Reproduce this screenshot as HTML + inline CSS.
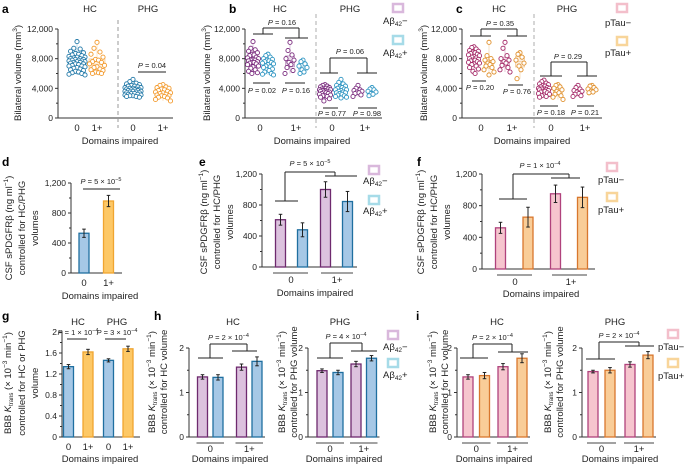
<!DOCTYPE html>
<html><head><meta charset="utf-8">
<style>
html,body{margin:0;padding:0;background:#fff;}
svg{display:block;font-family:"Liberation Sans",sans-serif;}
.tk{font-size:8.5px;fill:#222;}
.tt{font-size:9.5px;fill:#222;}
.pl{font-size:12px;font-weight:bold;fill:#000;}
.pv{font-size:7.5px;fill:#222;}
</style></head>
<body>
<svg id="fig" width="685" height="464" viewBox="0 0 685 464" xmlns="http://www.w3.org/2000/svg">
<text class="pl" x="2" y="13">a</text>
<text class="pl" x="229" y="13">b</text>
<text class="pl" x="456" y="13">c</text>
<text class="pl" x="2" y="166">d</text>
<text class="pl" x="199" y="166">e</text>
<text class="pl" x="417" y="166">f</text>
<text class="pl" x="2" y="320">g</text>
<text class="pl" x="154" y="320">h</text>
<text class="pl" x="416" y="320">i</text>

<text class="tt" transform="translate(21,73) rotate(-90)" text-anchor="middle">Bilateral volume (mm<tspan font-size="6.5" dy="-4">3</tspan><tspan dy="4">)</tspan></text>
<text class="tt" transform="translate(210,73) rotate(-90)" text-anchor="middle">Bilateral volume (mm<tspan font-size="6.5" dy="-4">3</tspan><tspan dy="4">)</tspan></text>
<text class="tt" transform="translate(427,73) rotate(-90)" text-anchor="middle">Bilateral volume (mm<tspan font-size="6.5" dy="-4">3</tspan><tspan dy="4">)</tspan></text>

<g>
<text class="tt" transform="translate(12,228) rotate(-90)" text-anchor="middle">CSF sPDGFRβ (ng ml<tspan font-size="6.5" dy="-4">−1</tspan><tspan dy="4">)</tspan></text>
<text class="tt" transform="translate(25,228) rotate(-90)" text-anchor="middle">controlled for HC/PHG</text>
<text class="tt" transform="translate(38,228) rotate(-90)" text-anchor="middle">volumes</text></g>
<g>
<text class="tt" transform="translate(207,222) rotate(-90)" text-anchor="middle">CSF sPDGFRβ (ng ml<tspan font-size="6.5" dy="-4">−1</tspan><tspan dy="4">)</tspan></text>
<text class="tt" transform="translate(220,222) rotate(-90)" text-anchor="middle">controlled for HC/PHG</text>
<text class="tt" transform="translate(233,222) rotate(-90)" text-anchor="middle">volumes</text></g>
<g>
<text class="tt" transform="translate(424,222) rotate(-90)" text-anchor="middle">CSF sPDGFRβ (ng ml<tspan font-size="6.5" dy="-4">−1</tspan><tspan dy="4">)</tspan></text>
<text class="tt" transform="translate(437,222) rotate(-90)" text-anchor="middle">controlled for HC/PHG</text>
<text class="tt" transform="translate(450,222) rotate(-90)" text-anchor="middle">volumes</text></g>
<g>
<text class="tt" transform="translate(11,383) rotate(-90)" text-anchor="middle">BBB <tspan font-style="italic">K</tspan><tspan font-size="6" dy="2">trans</tspan><tspan dy="-2"> (× 10</tspan><tspan font-size="6.5" dy="-4">−3</tspan><tspan dy="4"> min</tspan><tspan font-size="6.5" dy="-4">−1</tspan><tspan dy="4">)</tspan></text>
<text class="tt" transform="translate(25,383) rotate(-90)" text-anchor="middle">controlled for HC or PHG</text>
<text class="tt" transform="translate(38,383) rotate(-90)" text-anchor="middle">volume</text></g>
<g>
<text class="tt" transform="translate(155,382) rotate(-90)" text-anchor="middle">BBB <tspan font-style="italic">K</tspan><tspan font-size="6" dy="2">trans</tspan><tspan dy="-2"> (× 10</tspan><tspan font-size="6.5" dy="-4">−3</tspan><tspan dy="4"> min</tspan><tspan font-size="6.5" dy="-4">−1</tspan><tspan dy="4">)</tspan></text>
<text class="tt" transform="translate(167,382) rotate(-90)" text-anchor="middle">controlled for HC volume</text></g>
<g>
<text class="tt" transform="translate(285,382) rotate(-90)" text-anchor="middle">BBB <tspan font-style="italic">K</tspan><tspan font-size="6" dy="2">trans</tspan><tspan dy="-2"> (× 10</tspan><tspan font-size="6.5" dy="-4">−3</tspan><tspan dy="4"> min</tspan><tspan font-size="6.5" dy="-4">−1</tspan><tspan dy="4">)</tspan></text>
<text class="tt" transform="translate(297,382) rotate(-90)" text-anchor="middle">controlled for PHG volume</text></g>
<g>
<text class="tt" transform="translate(436,382) rotate(-90)" text-anchor="middle">BBB <tspan font-style="italic">K</tspan><tspan font-size="6" dy="2">trans</tspan><tspan dy="-2"> (× 10</tspan><tspan font-size="6.5" dy="-4">−3</tspan><tspan dy="4"> min</tspan><tspan font-size="6.5" dy="-4">−1</tspan><tspan dy="4">)</tspan></text>
<text class="tt" transform="translate(448,382) rotate(-90)" text-anchor="middle">controlled for HC volume</text></g>
<g>
<text class="tt" transform="translate(551,382) rotate(-90)" text-anchor="middle">BBB <tspan font-style="italic">K</tspan><tspan font-size="6" dy="2">trans</tspan><tspan dy="-2"> (× 10</tspan><tspan font-size="6.5" dy="-4">−3</tspan><tspan dy="4"> min</tspan><tspan font-size="6.5" dy="-4">−1</tspan><tspan dy="4">)</tspan></text>
<text class="tt" transform="translate(563,382) rotate(-90)" text-anchor="middle">controlled for PHG volume</text></g>

<text class="tt" x="90" y="12" text-anchor="middle">HC</text>
<text class="tt" x="148" y="12" text-anchor="middle">PHG</text>
<text class="tt" x="280" y="12" text-anchor="middle">HC</text>
<text class="tt" x="350" y="12" text-anchor="middle">PHG</text>
<text class="tt" x="499" y="12" text-anchor="middle">HC</text>
<text class="tt" x="567" y="12" text-anchor="middle">PHG</text>
<text class="tt" x="78" y="325" text-anchor="middle">HC</text>
<text class="tt" x="117" y="325" text-anchor="middle">PHG</text>
<text class="tt" x="233" y="325" text-anchor="middle">HC</text>
<text class="tt" x="340" y="325" text-anchor="middle">PHG</text>
<text class="tt" x="497" y="325" text-anchor="middle">HC</text>
<text class="tt" x="615" y="325" text-anchor="middle">PHG</text>

<text class="tt" x="120" y="144" text-anchor="middle">Domains impaired</text>
<text class="tt" x="312" y="144" text-anchor="middle">Domains impaired</text>
<text class="tt" x="532" y="144" text-anchor="middle">Domains impaired</text>
<text class="tt" x="100" y="299" text-anchor="middle">Domains impaired</text>
<text class="tt" x="315" y="296" text-anchor="middle">Domains impaired</text>
<text class="tt" x="541" y="297" text-anchor="middle">Domains impaired</text>
<text class="tt" x="100" y="462" text-anchor="middle">Domains impaired</text>
<text class="tt" x="230" y="462" text-anchor="middle">Domains impaired</text>
<text class="tt" x="344" y="462" text-anchor="middle">Domains impaired</text>
<text class="tt" x="494" y="462" text-anchor="middle">Domains impaired</text>
<text class="tt" x="620" y="462" text-anchor="middle">Domains impaired</text>

<g>
<rect x="393" y="4" width="10" height="8" fill="#fff" stroke="#d9b8dc" stroke-width="2.5"/><text class="tt" x="383" y="24">Aβ<tspan font-size="6.5" dy="2">42</tspan><tspan dy="-2">−</tspan></text>
<rect x="393" y="36" width="10" height="8" fill="#fff" stroke="#a6dbe8" stroke-width="2.5"/><text class="tt" x="383" y="56">Aβ<tspan font-size="6.5" dy="2">42</tspan><tspan dy="-2">+</tspan></text></g>
<g>
<rect x="617" y="4" width="10" height="8" fill="#fff" stroke="#f3bfcb" stroke-width="2.5"/><text class="tt" x="605" y="26">pTau−</text>
<rect x="617" y="37" width="10" height="8" fill="#fff" stroke="#f8d59a" stroke-width="2.5"/><text class="tt" x="605" y="56">pTau+</text></g>
<g>
<rect x="369" y="166" width="10" height="8" fill="#fff" stroke="#d9b8dc" stroke-width="2.5"/><text class="tt" x="363" y="184">Aβ<tspan font-size="6.5" dy="2">42</tspan><tspan dy="-2">−</tspan></text>
<rect x="369" y="196" width="10" height="8" fill="#fff" stroke="#a6dbe8" stroke-width="2.5"/><text class="tt" x="363" y="214">Aβ<tspan font-size="6.5" dy="2">42</tspan><tspan dy="-2">+</tspan></text></g>
<g>
<rect x="607" y="163" width="10" height="8" fill="#fff" stroke="#f3bfcb" stroke-width="2.5"/><text class="tt" x="598" y="183">pTau−</text>
<rect x="607" y="193" width="10" height="8" fill="#fff" stroke="#f8d59a" stroke-width="2.5"/><text class="tt" x="598" y="213">pTau+</text></g>
<g>
<rect x="388" y="331" width="10" height="8" fill="#fff" stroke="#d9b8dc" stroke-width="2.5"/><text class="tt" x="383" y="350">Aβ<tspan font-size="6.5" dy="2">42</tspan><tspan dy="-2">−</tspan></text>
<rect x="388" y="359" width="10" height="8" fill="#fff" stroke="#a6dbe8" stroke-width="2.5"/><text class="tt" x="383" y="378">Aβ<tspan font-size="6.5" dy="2">42</tspan><tspan dy="-2">+</tspan></text></g>
<g>
<rect x="668" y="330" width="10" height="8" fill="#fff" stroke="#f3bfcb" stroke-width="2.5"/><text class="tt" x="658" y="350">pTau−</text>
<rect x="668" y="359" width="10" height="8" fill="#fff" stroke="#f8d59a" stroke-width="2.5"/><text class="tt" x="658" y="379">pTau+</text></g>
</svg>

<script>
const aHC0 = [10.3,9.4,9.3,9.0,8.8,8.7,8.6,8.5,8.4,8.3,8.2,8.2,8.1,8.0,8.0,7.9,7.9,7.8,7.8,7.7,7.7,7.6,7.6,7.5,7.5,7.4,7.3,7.3,7.2,7.1,7.0,7.0,6.9,6.8,6.7,6.6,6.5,6.4,6.3,6.2,6.1,6.0,5.9,5.8];
const aHC1 = [10.2,9.4,8.9,8.6,8.2,7.9,7.8,7.6,7.5,7.3,7.1,6.9,6.8,6.6,6.5,6.4,6.2,6.1,6.0,6.0];
const aPHG0 = [5.2,4.9,4.7,4.6,4.5,4.4,4.3,4.3,4.2,4.1,4.1,4.0,4.0,3.9,3.9,3.8,3.8,3.8,3.7,3.7,3.6,3.6,3.6,3.5,3.5,3.4,3.4,3.3,3.3,3.2,3.2,3.1,3.1,3.0,3.0,2.9,2.9,2.8];
const aPHG1 = [4.5,4.4,4.2,4.1,4.0,3.9,3.8,3.7,3.6,3.5,3.4,3.4,3.3,3.2,3.1,3.0,3.0,2.9,2.8,2.7,2.5,2.3];
const bHC0neg = [10.3,9.4,9.2,9.0,8.8,8.6,8.5,8.4,8.2,8.1,8.0,7.9,7.8,7.8,7.7,7.6,7.5,7.5,7.4,7.3,7.2,7.0,6.9,6.7,6.5,6.3,6.1,6.0];
const bHC0pos = [8.6,8.4,8.2,8.0,7.9,7.8,7.7,7.6,7.5,7.4,7.3,7.2,7.0,6.9,6.8,6.6,6.5,6.4,6.2,6.0,5.9,5.8];
const bHC1neg = [10.2,9.1,8.5,8.0,7.8,7.5,7.2,6.8,6.4,6.0];
const bHC1pos = [7.8,7.6,7.3,7.0,6.8,6.5,6.2,6.0];
const bPHG0neg = [4.5,4.4,4.3,4.2,4.1,4.0,4.0,3.9,3.9,3.8,3.8,3.7,3.7,3.6,3.6,3.5,3.5,3.4,3.3,3.3,3.2,3.1,3.0,3.0,2.9,2.8,2.6,2.3];
const bPHG0pos = [5.2,4.8,4.6,4.4,4.3,4.2,4.1,4.0,3.9,3.8,3.8,3.7,3.6,3.5,3.4,3.4,3.3,3.2,3.1,3.0,2.9,2.8,2.7];
const bPHG1neg = [4.4,4.0,3.8,3.7,3.6,3.5,3.4,3.3,3.1,2.9];
const bPHG1pos = [4.1,3.9,3.8,3.6,3.5,3.3,3.2,3.0];
const cHC0neg = [9.6,9.5,9.3,9.1,9.0,8.9,8.8,8.7,8.6,8.5,8.4,8.3,8.2,8.1,8.0,7.9,7.8,7.8,7.7,7.6,7.5,7.4,7.3,7.2,7.0,6.8,6.6,6.3,6.0];
const cHC0pos = [10.2,8.4,8.0,7.8,7.6,7.4,7.2,7.0,6.8,6.5,6.2,5.8];
const cHC1neg = [10.2,9.4,8.4,8.0,7.8,7.6,7.4,7.1,6.8,6.5,6.2];
const cHC1pos = [8.8,8.6,8.2,7.8,7.4,7.0,6.5,5.3];
const cPHG0neg = [5.1,4.9,4.7,4.6,4.5,4.4,4.3,4.2,4.1,4.0,4.0,3.9,3.9,3.8,3.8,3.7,3.6,3.6,3.5,3.4,3.3,3.2,3.1,3.0,2.9,2.8];
const cPHG0pos = [4.5,4.4,4.2,4.0,3.8,3.6,3.4,3.2,3.0,2.8,2.5];
const cPHG1neg = [4.4,4.1,3.9,3.7,3.6,3.5,3.3,3.2,3.0,2.9];
const cPHG1pos = [4.4,4.3,4.1,3.9,3.8,3.6,3.5,3.4];
const dVals = [530, 960];     const dErr = [55, 75];
const eVals = [610, 480, 1000, 845]; const eErr = [70, 90, 100, 130];
const fVals = [520, 655, 950, 905];  const fErr = [70, 125, 110, 130];
const gVals = [1.34, 1.62, 1.46, 1.68]; const gErr = [0.04, 0.05, 0.03, 0.05];
const hHCVals = [1.35, 1.34, 1.57, 1.70]; const hHCErr = [0.05, 0.06, 0.07, 0.10];
const hPHGVals = [1.49, 1.45, 1.64, 1.77]; const hPHGErr = [0.04, 0.05, 0.06, 0.06];
const iHCVals = [1.35, 1.38, 1.58, 1.77]; const iHCErr = [0.05, 0.07, 0.07, 0.10];
const iPHGVals = [1.47, 1.50, 1.63, 1.84]; const iPHGErr = [0.03, 0.06, 0.06, 0.08];
const volTicks = [0, 4000, 8000, 12000];
const volTickLabels = ["0", "4,000", "8,000", "12,000"];
const csfTicks = [0, 400, 800, 1200];
const csfTickLabels = ["0", "400", "800", "1,200"];
const gTicks = [0, 0.4, 0.8, 1.2, 1.6, 2];
const gTickLabels = ["0", "0.4", "0.8", "1.2", "1.6", "2"];
const kTicks = [0, 1, 2];
const kTickLabels = ["0", "1", "2"];

const svg = document.getElementById('fig');
const NS = 'http://www.w3.org/2000/svg';
function mk(tag, attrs) { const e = document.createElementNS(NS, tag); for (const k in attrs) e.setAttribute(k, attrs[k]); svg.appendChild(e); return e; }
function ln(x1, y1, x2, y2, c, w, name) {
  const e = mk('line', {x1, y1, x2, y2, stroke: c || '#222', 'stroke-width': w || 1});
  
  
  return e;
}
function tx(x, y, s, cls, anchor, name) {
  const e = mk('text', {x, y, 'class': cls || 'tk', 'text-anchor': anchor || 'middle'});
  e.innerHTML = s;
  
  
  return e;
}
function yScale(yTop, yBot, max) { return v => yBot - v / max * (yBot - yTop); }
function yAxis(ax, sc, ticks, labels, xEnd, yBot, name, minor) {
  ln(ax, sc(ticks[ticks.length - 1]), ax, yBot, '#333', 1, name + '-y-axis');
  if (xEnd) ln(ax, yBot, xEnd, yBot, '#333', 1, name + '-x-axis');
  ticks.forEach((t, i) => {
    ln(ax - 3, sc(t), ax, sc(t), '#333', 1, name + '-y-tick');
    tx(ax - 5, sc(t) + 3, labels[i], 'tk', 'end', name + '-y-tick-label');
    if (minor && i < ticks.length - 1) {
      const m = (t + ticks[i + 1]) / 2;
      ln(ax - 2, sc(m), ax, sc(m), '#333', 1, name + '-y-minor-tick');
    }
  });
}
const offs = [0, -1, 1, -2, 2, -0.5, 0.5, -1.5, 1.5, -2.5, 2.5];
function swarm(cx, vals, color, sc, spread, boxW, name) {
  const s = vals.slice().sort((a, b) => a - b);
  const q = p => { const i = (s.length - 1) * p, lo = Math.floor(i); return s[lo] + (s[Math.min(lo + 1, s.length - 1)] - s[lo]) * (i - lo); };
  const q1 = q(0.25), q3 = q(0.75), md = q(0.5);
  const bx = mk('rect', {x: cx - boxW / 2, y: sc(q3 * 1000), width: boxW, height: sc(q1 * 1000) - sc(q3 * 1000), fill: color, 'fill-opacity': 0.15, stroke: color, 'stroke-opacity': 0.45, 'stroke-width': 0.8});
  
  
  ln(cx, sc(s[s.length - 1] * 1000), cx, sc(q3 * 1000), color, 0.6, name + '-whisker').setAttribute('stroke-opacity', 0.45);
  ln(cx, sc(q1 * 1000), cx, sc(s[0] * 1000), color, 0.6, name + '-whisker').setAttribute('stroke-opacity', 0.45);
  ln(cx - boxW / 2, sc(md * 1000), cx + boxW / 2, sc(md * 1000), color, 0.6, name + '-median').setAttribute('stroke-opacity', 0.45);
  vals.forEach((v, i) => {
    const c = mk('circle', {cx: cx + offs[i % offs.length] * spread, cy: sc(v * 1000), r: 2.1, fill: '#fff', stroke: color, 'stroke-width': 0.9});
    
    
  });
}
function bars(cxs, vals, errs, fills, strokes, sc, yBot, name) {
  vals.forEach((v, i) => {
    const r = mk('rect', {x: cxs[i] - 5, y: sc(v), width: 10, height: yBot - sc(v), fill: fills[i], stroke: strokes[i], 'stroke-width': 1.3});
    
    
    const t = sc(v + errs[i]), b = sc(v - errs[i]);
    ln(cxs[i], t, cxs[i], b, '#222', 1, name + '-error-bar');
    ln(cxs[i] - 1.8, t, cxs[i] + 1.8, t, '#222', 1, name + '-error-cap');
    ln(cxs[i] - 1.8, b, cxs[i] + 1.8, b, '#222', 1, name + '-error-cap');
  });
}
function bracket(lx1, lx2, ly, rx1, rx2, ry, vl, vr, top, name) {
  ln(lx1, ly, lx2, ly, '#222', 1, name + '-bracket');
  ln(rx1, ry, rx2, ry, '#222', 1, name + '-bracket');
  ln(vl, ly, vl, top, '#222', 1, name + '-bracket');
  ln(vl, top, vr, top, '#222', 1, name + '-bracket');
  ln(vr, top, vr, ry, '#222', 1, name + '-bracket');
}
const P = '<tspan font-style="italic">P</tspan>';
function sci(m, e) { return P + ' = ' + m + ' × 10<tspan font-size="5.5" dy="-3">' + e + '</tspan>'; }

const BLUE = '#2279a8', ORANGE = '#f39b2e', PURPLE = '#7a2b7e', TEAL = '#2e95c2', MAG = '#a52a68', ORG2 = '#e0902c';
const fBlue = '#a6c8e6', sBlue = '#1f6fa0', fOr = '#fdc866', sOr = '#f0a530';
const fPur = '#dcc2de', sPur = '#6e2a6e', fPink = '#f6c5ce', sPink = '#b0427c', fOr2 = '#f9cd98', sOr2 = '#d8772e';

const scA = yScale(29, 118, 12000);
yAxis(58, scA, volTicks, volTickLabels, 173, 118, 'a', true);
const dA = ln(118, 20, 118, 128, '#999', 1, 'a-divider'); dA.setAttribute('stroke-dasharray', '4,3');
swarm(77, aHC0, BLUE, scA, 3.2, 18, 'a-hc-0');
swarm(97, aHC1, ORANGE, scA, 3.0, 16, 'a-hc-1plus');
swarm(133, aPHG0, BLUE, scA, 3.2, 18, 'a-phg-0');
swarm(163, aPHG1, ORANGE, scA, 3.0, 16, 'a-phg-1plus');
['0', '1+', '0', '1+'].forEach((s, i) => tx([77, 97, 133, 163][i], 131, s, 'tt', 'middle', 'a-x-tick-label'));
ln(138, 72, 166, 72, '#222', 1, 'a-p-line');
tx(152, 68, P + ' = 0.04', 'pv', 'middle', 'a-p-value');

const scB = yScale(29, 118, 12000);
yAxis(245, scB, volTicks, volTickLabels, 382, 118, 'b', true);
const dB = ln(316, 14, 316, 128, '#999', 0.8, 'b-divider'); dB.setAttribute('stroke-dasharray', '4,3');
swarm(253, bHC0neg, PURPLE, scB, 2.2, 9, 'b-hc-0-abneg');
swarm(268, bHC0pos, TEAL, scB, 2.2, 9, 'b-hc-0-abpos');
swarm(290, bHC1neg, PURPLE, scB, 2.0, 9, 'b-hc-1-abneg');
swarm(303, bHC1pos, TEAL, scB, 2.0, 9, 'b-hc-1-abpos');
swarm(325, bPHG0neg, PURPLE, scB, 2.2, 9, 'b-phg-0-abneg');
swarm(341, bPHG0pos, TEAL, scB, 2.2, 9, 'b-phg-0-abpos');
swarm(358, bPHG1neg, PURPLE, scB, 2.0, 9, 'b-phg-1-abneg');
swarm(372, bPHG1pos, TEAL, scB, 2.0, 9, 'b-phg-1-abpos');
['0', '1+', '0', '1+'].forEach((s, i) => tx([260, 296, 332, 365][i], 131, s, 'tt', 'middle', 'b-x-tick-label'));
bracket(253, 273, 34, 285, 308, 38, 263, 299, 28, 'b-hc');
tx(282, 25, P + ' = 0.16', 'pv', 'middle', 'b-hc-p-value');
ln(253, 83, 270, 83, '#222', 1, 'b-sub-line'); ln(285, 83, 305, 83, '#222', 1, 'b-sub-line');
tx(262, 93, P + ' = 0.02', 'pv', 'middle', 'b-p-value'); tx(296, 93, P + ' = 0.16', 'pv', 'middle', 'b-p-value');
bracket(320, 338, 73, 357, 377, 73, 330, 367, 58, 'b-phg');
tx(350, 54, P + ' = 0.06', 'pv', 'middle', 'b-phg-p-value');
ln(323, 108, 338, 108, '#222', 1, 'b-sub-line'); ln(358, 108, 377, 108, '#222', 1, 'b-sub-line');
tx(332, 116, P + ' = 0.77', 'pv', 'middle', 'b-p-value'); tx(367, 116, P + ' = 0.98', 'pv', 'middle', 'b-p-value');

const scC = yScale(29, 118, 12000);
yAxis(462, scC, volTicks, volTickLabels, 602, 118, 'c', true);
const dC = ln(534, 14, 534, 128, '#999', 0.8, 'c-divider'); dC.setAttribute('stroke-dasharray', '4,3');
swarm(474, cHC0neg, MAG, scC, 2.2, 9, 'c-hc-0-tauneg');
swarm(489, cHC0pos, ORG2, scC, 2.0, 9, 'c-hc-0-taupos');
swarm(505, cHC1neg, MAG, scC, 2.0, 9, 'c-hc-1-tauneg');
swarm(520, cHC1pos, ORG2, scC, 2.0, 9, 'c-hc-1-taupos');
swarm(544, cPHG0neg, MAG, scC, 2.2, 9, 'c-phg-0-tauneg');
swarm(558, cPHG0pos, ORG2, scC, 2.0, 9, 'c-phg-0-taupos');
swarm(578, cPHG1neg, MAG, scC, 2.0, 9, 'c-phg-1-tauneg');
swarm(592, cPHG1pos, ORG2, scC, 2.0, 9, 'c-phg-1-taupos');
['0', '1+', '0', '1+'].forEach((s, i) => tx([481, 512, 551, 585][i], 131, s, 'tt', 'middle', 'c-x-tick-label'));
bracket(470, 491, 36, 507, 527, 36, 481, 517, 29, 'c-hc');
tx(500, 26, P + ' = 0.35', 'pv', 'middle', 'c-hc-p-value');
ln(472, 81, 486, 81, '#222', 1, 'c-sub-line'); ln(508, 85, 523, 85, '#222', 1, 'c-sub-line');
tx(480, 90, P + ' = 0.20', 'pv', 'middle', 'c-p-value'); tx(517, 94, P + ' = 0.76', 'pv', 'middle', 'c-p-value');
bracket(540, 562, 76, 577, 597, 76, 551, 587, 62, 'c-phg');
tx(568, 59, P + ' = 0.29', 'pv', 'middle', 'c-phg-p-value');
ln(540, 106, 558, 106, '#222', 1, 'c-sub-line'); ln(577, 106, 594, 106, '#222', 1, 'c-sub-line');
tx(551, 115, P + ' = 0.18', 'pv', 'middle', 'c-p-value'); tx(585, 115, P + ' = 0.21', 'pv', 'middle', 'c-p-value');

const scD = yScale(183, 273, 1200);
yAxis(71, scD, csfTicks, csfTickLabels, 122, 273, 'd', true);
bars([84, 108.5], dVals, dErr, [fBlue, fOr], [sBlue, sOr], scD, 273, 'd');
tx(84, 286, '0', 'tt', 'middle', 'd-x-tick-label'); tx(108.5, 286, '1+', 'tt', 'middle', 'd-x-tick-label');
ln(83, 189, 120, 189, '#222', 1, 'd-p-line');
tx(101, 184, sci('5', '−5'), 'pv', 'middle', 'd-p-value');

const scE = yScale(174, 267, 1200);
yAxis(262, scE, csfTicks, csfTickLabels, null, 267, 'e', true);
ln(262, 267, 357, 267, '#333', 1, 'e-x-axis');
bars([280.5, 302.5, 325.5, 347.5], eVals, eErr, [fPur, fBlue, fPur, fBlue], [sPur, sBlue, sPur, sBlue], scE, 267, 'e');
ln(273, 273, 308, 273, '#444', 1, 'e-group-line'); ln(321, 273, 353, 273, '#444', 1, 'e-group-line');
tx(291, 283, '0', 'tt', 'middle', 'e-x-tick-label'); tx(337, 283, '1+', 'tt', 'middle', 'e-x-tick-label');
bracket(275, 298, 201, 325, 357, 176, 285, 335, 172, 'e');
tx(310, 166, sci('5', '−5'), 'pv', 'middle', 'e-p-value');

const scF = yScale(174, 269, 1200);
yAxis(482, scF, csfTicks, csfTickLabels, null, 269, 'f', true);
ln(482, 269, 595, 269, '#333', 1, 'f-x-axis');
bars([500.5, 528, 555.5, 582.5], fVals, fErr, [fPink, fOr2, fPink, fOr2], [sPink, sOr2, sPink, sOr2], scF, 269, 'f');
ln(497, 275, 532, 275, '#444', 1, 'f-group-line'); ln(552, 275, 587, 275, '#444', 1, 'f-group-line');
tx(515, 285, '0', 'tt', 'middle', 'f-x-tick-label'); tx(571, 285, '1+', 'tt', 'middle', 'f-x-tick-label');
bracket(499, 527, 199, 551, 580, 178, 513, 569, 174, 'f');
tx(540, 168, sci('1', '−4'), 'pv', 'middle', 'f-p-value');

const scG = yScale(332, 437, 2);
yAxis(62, scG, gTicks, gTickLabels, 140, 437, 'g', true);
bars([68.5, 88, 108.5, 128], gVals, gErr, [fBlue, fOr, fBlue, fOr], [sBlue, sOr, sBlue, sOr], scG, 437, 'g');
['0', '1+', '0', '1+'].forEach((s, i) => tx([68.5, 88, 108.5, 128][i], 450, s, 'tt', 'middle', 'g-x-tick-label'));
ln(67, 339, 87, 339, '#222', 1, 'g-p-line'); ln(105, 339, 126, 339, '#222', 1, 'g-p-line');
tx(78, 335, sci('1', '−4'), 'pv', 'middle', 'g-p-value'); tx(117, 335, sci('3', '−4'), 'pv', 'middle', 'g-p-value');

function kPanel(ax, xs, vals, errs, fills, strokes, br, pText, name) {
  const sc = yScale(348, 437, 2);
  yAxis(ax, sc, kTicks, kTickLabels, null, 437, name, true);
  ln(ax, 437, xs[3] + 8, 437, '#333', 1, name + '-x-axis');
  bars(xs, vals, errs, fills, strokes, sc, 437, name);
  ln(xs[0] - 6, 443, xs[1] + 6, 443, '#444', 1, name + '-group-line');
  ln(xs[2] - 6, 443, xs[3] + 6, 443, '#444', 1, name + '-group-line');
  tx((xs[0] + xs[1]) / 2, 452, '0', 'tt', 'middle', name + '-x-tick-label');
  tx((xs[2] + xs[3]) / 2, 452, '1+', 'tt', 'middle', name + '-x-tick-label');
  bracket(br[0], br[1], br[2], br[3], br[4], br[5], br[6], br[7], br[8], name);
  tx((br[6] + br[7]) / 2, br[8] - 4, pText, 'pv', 'middle', name + '-p-value');
}
kPanel(189, [202.5, 218, 241.5, 257], hHCVals, hHCErr, [fPur, fBlue, fPur, fBlue], [sPur, sBlue, sPur, sBlue], [198, 223, 358, 232, 257, 351, 210, 247, 344], sci('2', '−4'), 'h-hc');
kPanel(308, [322, 338, 356, 371.5], hPHGVals, hPHGErr, [fPur, fBlue, fPur, fBlue], [sPur, sBlue, sPur, sBlue], [317, 343, 358, 351, 377, 351, 330, 362, 343], sci('4', '−4'), 'h-phg');
kPanel(457, [468, 484.5, 503, 522], iHCVals, iHCErr, [fPink, fOr2, fPink, fOr2], [sPink, sOr2, sPink, sOr2], [460, 488, 358, 498, 528, 352, 473, 512, 344], sci('2', '−4'), 'i-hc');
kPanel(582, [593, 610, 630, 648], iPHGVals, iPHGErr, [fPink, fOr2, fPink, fOr2], [sPink, sOr2, sPink, sOr2], [586, 615, 359, 625, 654, 346, 599, 639, 342], sci('2', '−4'), 'i-phg');
</script>
</body></html>
